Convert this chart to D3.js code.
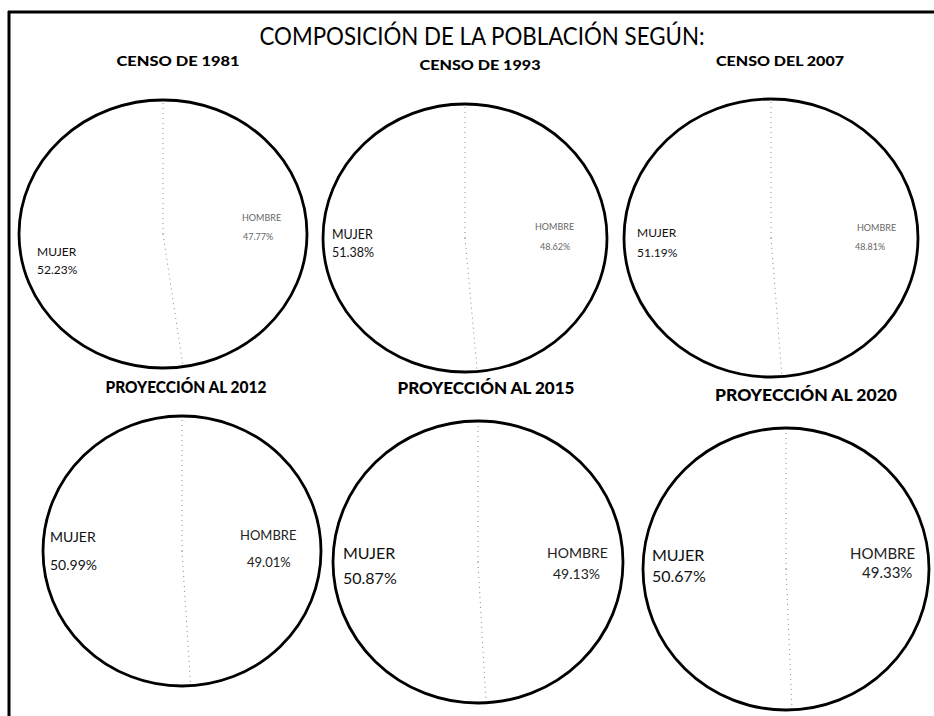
<!DOCTYPE html>
<html>
<head>
<meta charset="utf-8">
<script src="https://cdn.jsdelivr.net/npm/d3@7"></script>
<style>
  html, body { margin: 0; padding: 0; background: #fff; }
  svg { display: block; }
  text { font-family: Lato, "Open Sans", sans-serif; }
</style>
</head>
<body>
<svg id="chart" width="934" height="716"></svg>
<script>
// ---- data ----
const mainTitle = "COMPOSICIÓN DE LA POBLACIÓN SEGÚN:";
const chartTitles = ["CENSO DE 1981", "CENSO DE 1993", "CENSO DEL 2007",
                     "PROYECCIÓN AL 2012", "PROYECCIÓN AL 2015", "PROYECCIÓN AL 2020"];
const categories = ["HOMBRE", "MUJER"];
const hombre = [47.77, 48.62, 48.81, 49.01, 49.13, 49.33];
const mujer  = [52.23, 51.38, 51.19, 50.99, 50.87, 50.67];

// ---- layout (positions / sizes only) ----
const layout = [
  {cx:163, cy:234, rx:144, ry:134, tx:178, ty:66,  tw:123, tfs:14, mx:37,  my:256, mdy:18, mfs:12,   hx:242, hy:221, hdy:19, hfs:9,  hc:"#666", pdx:1},
  {cx:465, cy:238, rx:142, ry:134, tx:480, ty:70,  tw:121, tfs:14, mx:332, my:239, mdy:18, mfs:12.5, hx:535, hy:230, hdy:20, hfs:9,  hc:"#666", pdx:5},
  {cx:771, cy:238, rx:147, ry:139, tx:780, ty:66,  tw:128, tfs:14, mx:637, my:237, mdy:20, mfs:12,   hx:857, hy:231, hdy:19, hfs:9,  hc:"#666", pdx:-2},
  {cx:182, cy:551, rx:139, ry:135, tx:186, ty:393, tw:161, tfs:16, mx:50,  my:542, mdy:28, mfs:14,   hx:240, hy:540, hdy:27, hfs:13, hc:"#222", pdx:7},
  {cx:478, cy:562, rx:145, ry:141, tx:486, ty:394, tw:177, tfs:17, mx:343, my:559, mdy:25, mfs:16,   hx:547, hy:558, hdy:21, hfs:14, hc:"#222", pdx:6},
  {cx:786, cy:569, rx:143, ry:141, tx:806, ty:401, tw:182, tfs:17, mx:652, my:561, mdy:21, mfs:16,   hx:850, hy:559, hdy:19, hfs:15, hc:"#222", pdx:12}
];

const svg = d3.select("#chart");
const fmt = v => d3.format(".2f")(v) + "%";

// frame
svg.append("line").attr("x1", 8).attr("x2", 934).attr("y1", 12).attr("y2", 12)
  .attr("stroke", "#000").attr("stroke-width", 3);
svg.append("line").attr("x1", 9).attr("x2", 9).attr("y1", 11).attr("y2", 716)
  .attr("stroke", "#000").attr("stroke-width", 3);

// main title
svg.append("text")
  .attr("x", 482).attr("y", 45)
  .attr("text-anchor", "middle")
  .attr("font-size", 25)
  .attr("textLength", 445).attr("lengthAdjust", "spacingAndGlyphs")
  .attr("fill", "#000")
  .text(mainTitle);

const pie = d3.pie().sort(null).value(d => d.value);
const arc = d3.arc().innerRadius(0).outerRadius(1);

chartTitles.forEach((title, i) => {
  const L = layout[i];
  const data = [
    {name: categories[0], value: hombre[i]},
    {name: categories[1], value: mujer[i]}
  ];
  const arcs = pie(data);

  // subtitle
  svg.append("text")
    .attr("x", L.tx).attr("y", L.ty)
    .attr("text-anchor", "middle")
    .attr("font-size", L.tfs).attr("font-weight", 900)
    .attr("textLength", L.tw).attr("lengthAdjust", "spacingAndGlyphs")
    .attr("fill", "#000")
    .text(title);

  const g = svg.append("g").attr("transform", `translate(${L.cx},${L.cy})`);

  // slices (white)
  g.append("g").attr("transform", `scale(${L.rx},${L.ry})`)
    .selectAll("path").data(arcs).join("path")
    .attr("d", arc)
    .attr("fill", "#fff")
    .attr("stroke", "none");

  // dotted dividers
  g.selectAll("line.div").data(arcs).join("line")
    .attr("class", "div")
    .attr("x1", 0).attr("y1", 0)
    .attr("x2", d => L.rx * Math.sin(d.startAngle))
    .attr("y2", d => -L.ry * Math.cos(d.startAngle))
    .attr("stroke", "#888")
    .attr("stroke-width", 1)
    .attr("stroke-dasharray", "1,4");

  // outline
  g.append("ellipse")
    .attr("cx", 0).attr("cy", 0)
    .attr("rx", L.rx).attr("ry", L.ry)
    .attr("fill", "none")
    .attr("stroke", "#000")
    .attr("stroke-width", 2.8);

  // MUJER label
  svg.append("text")
    .attr("x", L.mx).attr("y", L.my)
    .attr("font-size", L.mfs).attr("fill", "#111")
    .text(data[1].name);
  svg.append("text")
    .attr("x", L.mx).attr("y", L.my + L.mdy)
    .attr("font-size", L.mfs).attr("fill", "#111")
    .text(fmt(data[1].value));

  // HOMBRE label
  svg.append("text")
    .attr("x", L.hx).attr("y", L.hy)
    .attr("font-size", L.hfs).attr("fill", L.hc)
    .text(data[0].name);
  svg.append("text")
    .attr("x", L.hx + L.pdx).attr("y", L.hy + L.hdy)
    .attr("font-size", L.hfs).attr("fill", L.hc)
    .text(fmt(data[0].value));
});
</script>
</body>
</html>
